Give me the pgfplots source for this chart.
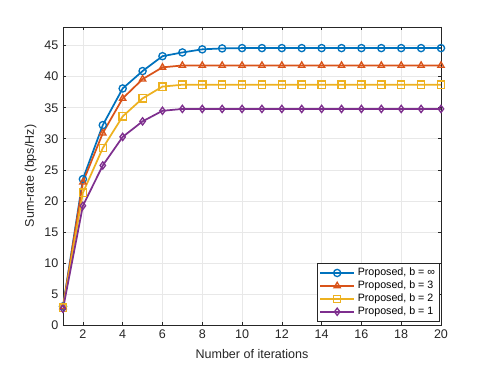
\documentclass[border=0pt]{standalone}
\usepackage{fontspec}
\setmainfont{Liberation Sans}
\usepackage{pgfplots}
\pgfplotsset{compat=1.18}
\definecolor{mblue}{rgb}{0,0.447,0.741}
\definecolor{morange}{rgb}{0.85,0.325,0.098}
\definecolor{myellow}{rgb}{0.929,0.694,0.125}
\definecolor{mpurple}{rgb}{0.494,0.184,0.556}
\definecolor{axgray}{rgb}{0.15,0.15,0.15}

\begin{document}
\begin{tikzpicture}
% page size: 487x366 px at 0.75pt/px
\useasboundingbox (-47.25pt,-30.75pt) rectangle (318pt,243.75pt);
\begin{axis}[
  scale only axis,
  width=283.5pt, height=223.5pt,
  xmin=1, xmax=20, ymin=0, ymax=48,
  xtick={2,4,...,20}, ytick={0,5,...,45},
  font=\fontsize{9.4}{11}\selectfont,
  /pgf/number format/assume math mode=true,
  tick label style={color=axgray},
  axis line style={draw=axgray, line width=0.5pt},
  tick style={draw=axgray, line width=0.4pt},
  major tick length=2.5pt,
  tick align=inside,
  grid=major,
  grid style={gray!18, line width=0.4pt},
  xlabel={Number of iterations},
  ylabel={Sum-rate (bps/Hz)},
  xlabel style={color=axgray, yshift=-1pt},
  ylabel style={color=axgray, yshift=-1pt},
  every axis plot/.append style={line width=1.3pt, mark size=2.7pt,
    mark options={solid, line width=1pt}},
  legend style={font=\fontsize{8}{9.5}\selectfont, draw=axgray,
    line width=0.4pt, fill=white, at={(0.997,0.012)}, anchor=south east,
    inner sep=1.4pt, row sep=-1.6pt},
  legend cell align=left,
  legend image code/.code={
    \draw[#1] (0cm,0cm) -- (0.9cm,0cm);
    \draw[#1, only marks] plot coordinates {(0.45cm,0cm)};
  },
]
\addplot[color=mblue, mark=o] coordinates {
  (1,3.0) (2,23.5) (3,32.2) (4,38.1) (5,40.9) (6,43.3) (7,43.9) (8,44.4)
  (9,44.55) (10,44.6) (11,44.6) (12,44.6) (13,44.6) (14,44.6) (15,44.6)
  (16,44.6) (17,44.6) (18,44.6) (19,44.6) (20,44.6)};
\addlegendentry{Proposed, b = ∞}
\addplot[color=morange, mark=triangle] coordinates {
  (1,2.9) (2,23.0) (3,30.9) (4,36.5) (5,39.6) (6,41.5) (7,41.8) (8,41.8)
  (9,41.8) (10,41.8) (11,41.8) (12,41.8) (13,41.8) (14,41.8) (15,41.8)
  (16,41.8) (17,41.8) (18,41.8) (19,41.8) (20,41.8)};
\addlegendentry{Proposed, b = 3}
\addplot[color=myellow, mark=square] coordinates {
  (1,2.8) (2,21.3) (3,28.5) (4,33.6) (5,36.5) (6,38.4) (7,38.7) (8,38.7)
  (9,38.7) (10,38.7) (11,38.7) (12,38.7) (13,38.7) (14,38.7) (15,38.7)
  (16,38.7) (17,38.7) (18,38.7) (19,38.7) (20,38.7)};
\addlegendentry{Proposed, b = 2}
\addplot[color=mpurple, mark=diamond] coordinates {
  (1,2.6) (2,19.2) (3,25.7) (4,30.3) (5,32.8) (6,34.5) (7,34.8) (8,34.8)
  (9,34.8) (10,34.8) (11,34.8) (12,34.8) (13,34.8) (14,34.8) (15,34.8)
  (16,34.8) (17,34.8) (18,34.8) (19,34.8) (20,34.8)};
\addlegendentry{Proposed, b = 1}
\end{axis}
\end{tikzpicture}
\end{document}
